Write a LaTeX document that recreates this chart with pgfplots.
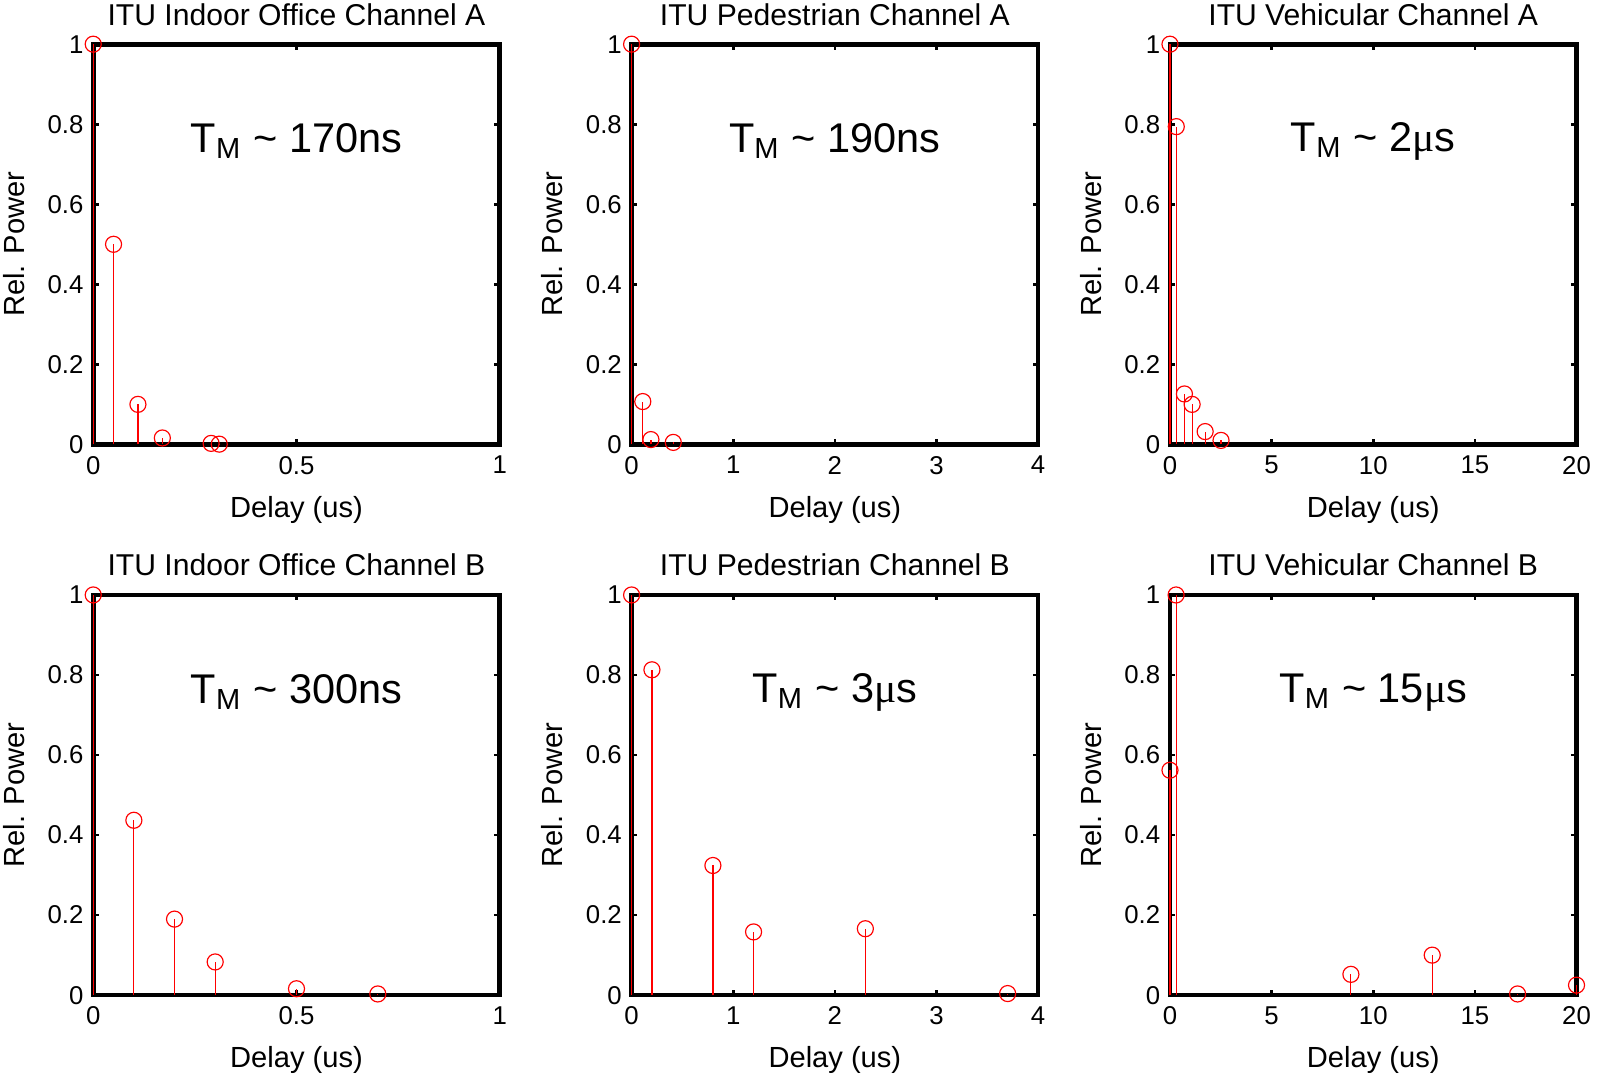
\documentclass[border=0pt]{standalone}
\usepackage{fontspec}
\setmainfont{Liberation Sans}
\newfontfamily\serifgr{Liberation Serif}
\usepackage{pgfplots}
\pgfplotsset{compat=1.18}
\usepgfplotslibrary{groupplots}

\pgfplotsset{
  itu/.style={
    scale only axis, width=121.5pt, height=119.6pt,
    ymin=0, ymax=1, xmin=0,
    ytick={0,0.2,0.4,0.6,0.8,1},
    yticklabels={0,0.2,0.4,0.6,0.8,1},
    axis line style={line width=1.4pt},
    tick align=inside, major tick length=1.6pt,
    tick style={black, line width=0.8pt},
    tick label style={font=\fontsize{7.7}{9}\selectfont},
    yticklabel style={xshift=0.6pt},
    /pgf/number format/assume math mode=true,
    label style={font=\fontsize{8.7}{10}\selectfont},
    title style={font=\fontsize{9}{10}\selectfont, inner sep=1pt, yshift=-1.6pt},
    xlabel={Delay (us)}, ylabel={Rel. Power},
    xlabel style={inner sep=1pt, yshift=-1.9pt},
    ylabel style={inner sep=1pt, yshift=2.3pt},
    clip=false,
  },
  stem/.style={ycomb, color=red, line width=0.35pt, mark=o, mark size=2.4pt,
    mark options={line width=0.35pt}},
}
\newcommand{\tm}[1]{\node[font=\fontsize{12.4}{15}\selectfont] at (rel axis cs:0.5,0.757) {T\textsubscript{M} \textasciitilde{} #1};}

\begin{document}
\begin{tikzpicture}
\begin{groupplot}[group style={group size=3 by 2, horizontal sep=39.4pt, vertical sep=45pt}, itu]
% Indoor A
\nextgroupplot[title={ITU Indoor Office Channel A}, xmax=1, xtick={0,0.5,1}, xticklabels={0,0.5,1}]
\addplot[stem] coordinates {(0,1) (0.05,0.5) (0.11,0.1) (0.17,0.016) (0.29,0.0025) (0.31,0.0006)};
\tm{170ns}
% Pedestrian A
\nextgroupplot[title={ITU Pedestrian Channel A}, xmax=4, xtick={0,1,2,3,4}]
\addplot[stem] coordinates {(0,1) (0.11,0.107) (0.19,0.012) (0.41,0.005)};
\tm{190ns}
% Vehicular A
\nextgroupplot[title={ITU Vehicular Channel A}, xmax=20, xtick={0,5,10,15,20}]
\addplot[stem] coordinates {(0,1) (0.31,0.794) (0.71,0.126) (1.09,0.1) (1.73,0.032) (2.51,0.01)};
\tm{2{\serifgr μ}s}
% Indoor B
\nextgroupplot[title={ITU Indoor Office Channel B}, xmax=1, xtick={0,0.5,1}, xticklabels={0,0.5,1}]
\addplot[stem] coordinates {(0,1) (0.1,0.437) (0.2,0.19) (0.3,0.083) (0.5,0.016) (0.7,0.003)};
\tm{300ns}
% Pedestrian B
\nextgroupplot[title={ITU Pedestrian Channel B}, xmax=4, xtick={0,1,2,3,4}]
\addplot[stem] coordinates {(0,1) (0.2,0.813) (0.8,0.324) (1.2,0.158) (2.3,0.166) (3.7,0.004)};
\tm{3{\serifgr μ}s}
% Vehicular B
\nextgroupplot[title={ITU Vehicular Channel B}, xmax=20, xtick={0,5,10,15,20}]
\addplot[stem] coordinates {(0,0.562) (0.3,1) (8.9,0.052) (12.9,0.1) (17.1,0.003) (20,0.025)};
\tm{15{\serifgr μ}s}
\end{groupplot}
\end{tikzpicture}
\end{document}
